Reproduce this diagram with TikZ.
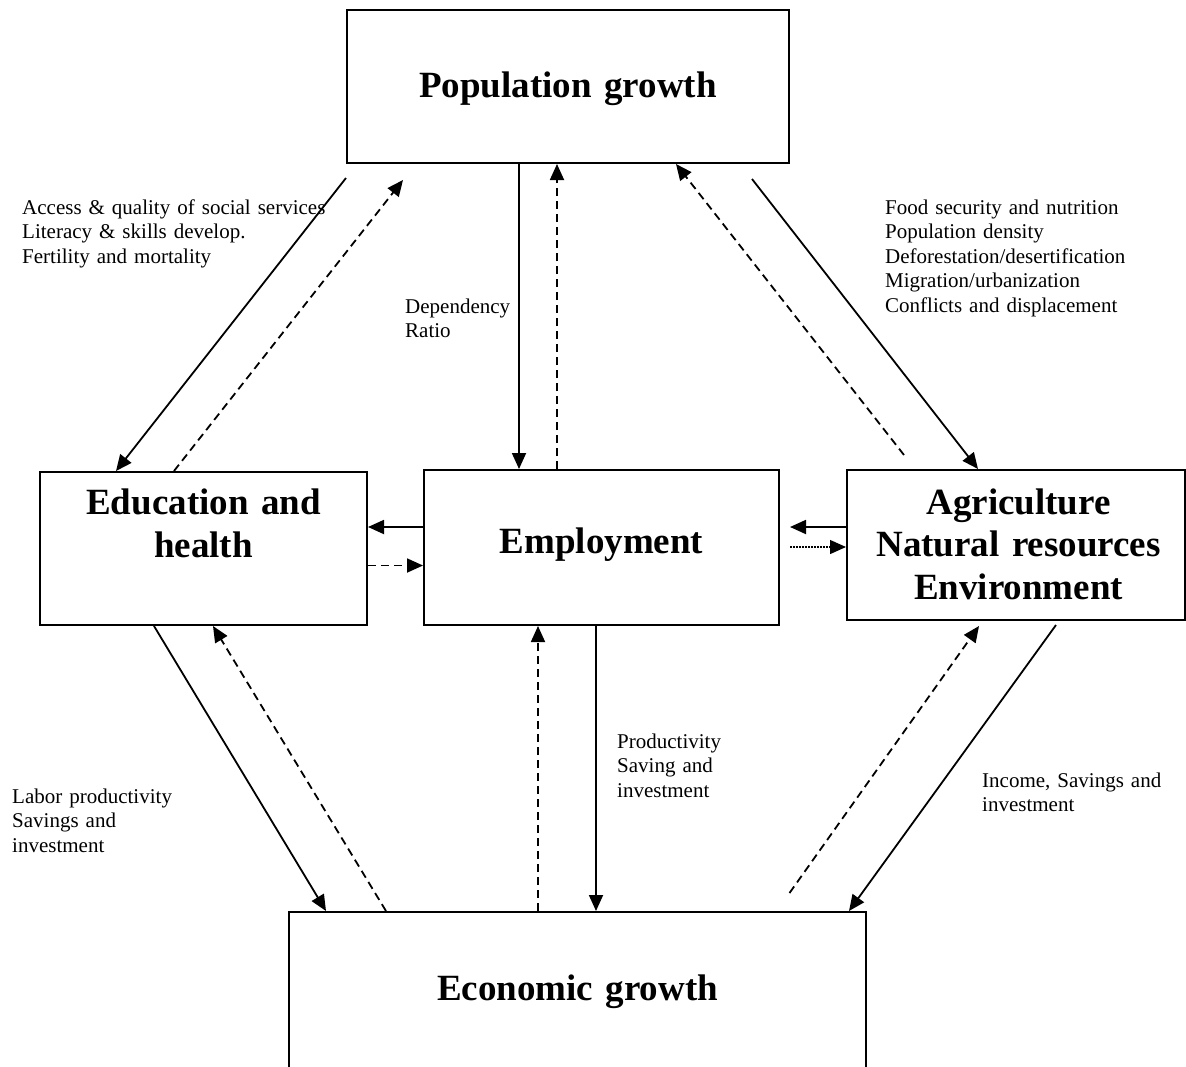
\documentclass[tikz,border=0pt]{standalone}
\usepackage{fontspec}
\setmainfont{Liberation Serif}
\usepackage{tikz}
\usetikzlibrary{arrows.meta, calc, positioning}
\tikzstyle{block}=[rectangle, draw=black, line width=2pt, inner sep=0pt]
\tikzstyle{title}=[font=\fontsize{37}{42.5}\selectfont\bfseries,
                   text width=340pt, align=center, inner sep=0pt, anchor=base]
\tikzstyle{note}=[font=\fontsize{21}{24.5}\selectfont,
                  text width=330pt, align=left, inner sep=0pt, anchor=base west]
\tikzstyle{arrow}=[-{Triangle[length=16pt,width=14pt]}, line width=1.8pt]
\tikzstyle{feedback}=[arrow, dash pattern=on 8pt off 5pt]
\tikzstyle{weak}=[arrow, line width=1.3pt, dash pattern=on 1.5pt off 1.5pt]

\begin{document}
\begin{tikzpicture}[x=1pt, y=-1pt]
  \useasboundingbox (0,0) rectangle (1186,1066);
  \clip (0,0) rectangle (1186,1066);

  % Boxes
  \node[block, minimum width=442pt, minimum height=153pt] (pop) at (568,86.5) {};
  \node[block, minimum width=327pt, minimum height=153pt] (edu) at (203.5,548.5) {};
  \node[block, minimum width=355pt, minimum height=155pt] (emp) at (601.5,547.5) {};
  \node[block, minimum width=338pt, minimum height=150pt] (agri) at (1016,545) {};
  \node[block, minimum width=577pt, minimum height=188pt] (econ) at (577.5,1006) {};

  % Titles
  \node[title] (poptxt) at ($(pop.north)+(0,88.4)$) {Population growth};
  \node[title] (edutxt) at ($(edu.north)+(0,43.5)$) {Education and\\health};
  \node[title] (emptxt) at ($(emp.north)+(0,84)$) {Employment};
  \node[title] (agritxt) at ($(agri.north)+(2.5,45)$) {Agriculture\\Natural resources\\Environment};
  \node[title] (econtxt) at ($(econ.north)+(0,89)$) {Economic growth};

  % Channel notes
  \node[note] (noteedu) at (22,214) {Access \& quality of social services\\Literacy \& skills develop.\\Fertility and mortality};
  \node[note] (notedep) at (405,313) {Dependency\\Ratio};
  \node[note] (noteagri) at (885,214) {Food security and nutrition\\Population density\\Deforestation/desertification\\Migration/urbanization\\Conflicts and displacement};
  \node[note] (noteprod) at (617,748) {Productivity\\Saving and\\investment};
  \node[note] (notelab) at (12,803) {Labor productivity\\Savings and\\investment};
  \node[note] (noteinc) at (982,787) {Income, Savings and\\investment};

  % Population growth links
  \draw[arrow] ($(pop.south west)+(0,14)$) -- ($(edu.north west)+(77,0)$);
  \draw[feedback] ($(edu.north west)+(135,0)$) -- ($(pop.south west)+(57,16)$);
  \draw[arrow] ($(pop.south west)+(173,0)$) -- ($(emp.north west)+(96,0)$);
  \draw[feedback] ($(emp.north west)+(134,0)$) -- ($(pop.south west)+(211,0)$);
  \draw[feedback] ($(agri.north west)+(58,-14)$) -- ($(pop.south east)+(-114,0)$);
  \draw[arrow] ($(pop.south east)+(-38,15)$) -- ($(agri.north west)+(132,0)$);

  % Middle row
  \draw[arrow] ($(emp.north west)+(0,58)$) -- ($(edu.north east)+(0,56)$);
  \draw[feedback] ($(edu.north east)+(0,94.5)$) -- ($(emp.north west)+(0,96.5)$);
  \draw[arrow] ($(agri.north west)+(0,58)$) -- ($(emp.north east)+(10,58)$);
  \draw[weak] ($(emp.north east)+(10,78)$) -- ($(agri.north west)+(0,78)$);

  % Economic growth links
  \draw[arrow] ($(edu.south west)+(115,0)$) -- ($(econ.north west)+(38,0)$);
  \draw[feedback] ($(econ.north west)+(98,0)$) -- ($(edu.south west)+(174,0)$);
  \draw[arrow] ($(emp.south west)+(173,0)$) -- ($(econ.north west)+(308,0)$);
  \draw[feedback] ($(econ.north west)+(250,0)$) -- ($(emp.south west)+(115,0)$);
  \draw[arrow] ($(agri.south west)+(210,4)$) -- ($(econ.north east)+(-18,0)$);
  \draw[feedback] ($(econ.north east)+(-77.5,-18)$) -- ($(agri.south west)+(133,5)$);
\end{tikzpicture}
\end{document}
